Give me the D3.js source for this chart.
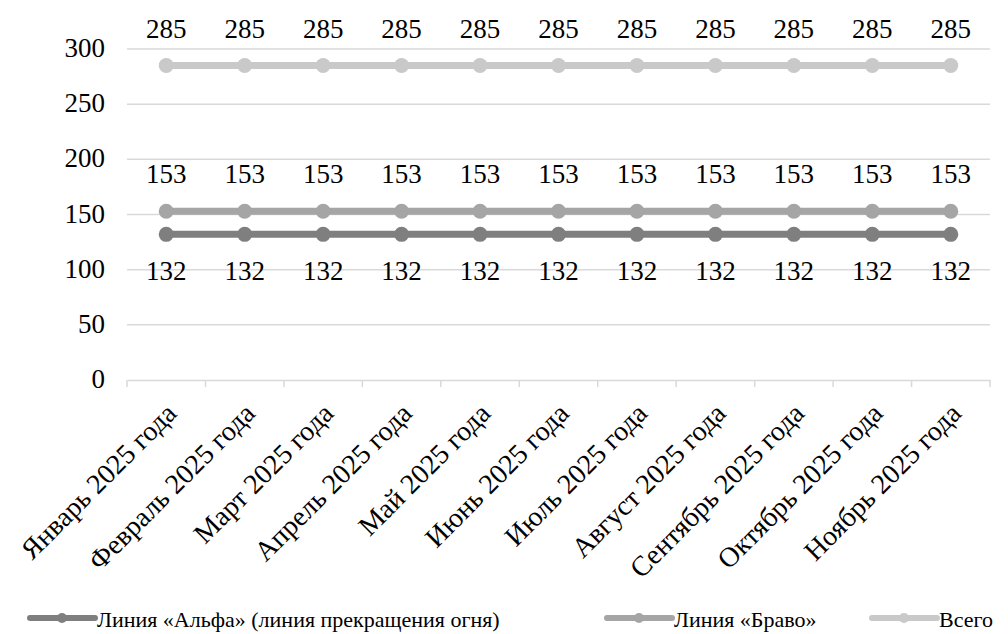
<!DOCTYPE html>
<html><head><meta charset="utf-8"><script src="https://cdn.jsdelivr.net/npm/d3@7"></script></head>
<body style="margin:0">
<script>
const months = ["Январь 2025 года", "Февраль 2025 года", "Март 2025 года", "Апрель 2025 года",
  "Май 2025 года", "Июнь 2025 года", "Июль 2025 года", "Август 2025 года",
  "Сентябрь 2025 года", "Октябрь 2025 года", "Ноябрь 2025 года"];
const seriesNames = ["Линия «Альфа» (линия прекращения огня)", "Линия «Браво»", "Всего"];
const alphaValues = [132, 132, 132, 132, 132, 132, 132, 132, 132, 132, 132];
const bravoValues = [153, 153, 153, 153, 153, 153, 153, 153, 153, 153, 153];
const totalValues = [285, 285, 285, 285, 285, 285, 285, 285, 285, 285, 285];
const yTicks = [0, 50, 100, 150, 200, 250, 300];

const series = [
  {name: seriesNames[0], values: alphaValues, color: "#7f7f7f", labelPos: "below"},
  {name: seriesNames[1], values: bravoValues, color: "#a5a5a5", labelPos: "above"},
  {name: seriesNames[2], values: totalValues, color: "#c9c9c9", labelPos: "above"}
];

const font = () => "'Times New Roman'";
const W = 1008, H = 634;
const margin = {top: 49, right: 18, bottom: 254, left: 127};
const width = W - margin.left - margin.right;
const height = H - margin.top - margin.bottom;

const svg = d3.select("body").append("svg")
  .attr("width", W).attr("height", H);
const g = svg.append("g").attr("transform", `translate(${margin.left},${margin.top})`);

const x = d3.scaleBand().domain(months).range([0, width]);
const y = d3.scaleLinear().domain([0, 300]).range([height, 0]);
const cx = d => x(d) + x.bandwidth() / 2;

// gridlines
g.selectAll(".grid").data(yTicks.filter(t => t > 0)).join("line")
  .attr("x1", 0).attr("x2", width)
  .attr("y1", d => y(d)).attr("y2", d => y(d))
  .attr("stroke", "#d9d9d9").attr("stroke-width", 1.5);

// y axis labels
g.selectAll(".ylab").data(yTicks).join("text")
  .attr("x", -22).attr("y", d => y(d) + 8)
  .attr("text-anchor", "end")
  .style("font-family", font).style("font-size", "27px")
  .text(d => d);

// x axis
const xAxis = g.append("g").attr("transform", `translate(0,${height})`)
  .call(d3.axisBottom(x).tickSize(0).tickFormat(""));
xAxis.select(".domain").attr("stroke", "#d9d9d9").attr("stroke-width", 1.5);
const edges = months.map(m => x(m)).concat([width]);
xAxis.selectAll(".edge").data(edges).join("line")
  .attr("x1", d => d).attr("x2", d => d).attr("y1", 0).attr("y2", 7)
  .attr("stroke", "#d9d9d9").attr("stroke-width", 1.5);
xAxis.selectAll(".xlab").data(months).join("text")
  .attr("transform", d => `translate(${cx(d) + 5},${28}) rotate(-45)`)
  .attr("text-anchor", "end").attr("dy", "0.35em").attr("fill", "#000")
  .style("font-family", font).style("font-size", "28px")
  .text(d => d);

// lines
const line = d3.line().x((d, i) => cx(months[i])).y(d => y(d));
series.forEach(s => {
  g.append("path").datum(s.values)
    .attr("fill", "none").attr("stroke", s.color).attr("stroke-width", 7)
    .attr("d", line);
  g.selectAll(null).data(s.values).join("circle")
    .attr("cx", (d, i) => cx(months[i])).attr("cy", d => y(d)).attr("r", 7.5)
    .attr("fill", s.color);
  g.selectAll(null).data(s.values).join("text")
    .attr("x", (d, i) => cx(months[i]))
    .attr("y", d => s.labelPos === "above" ? y(d) - 28 : y(d) + 46)
    .attr("text-anchor", "middle")
    .style("font-family", font).style("font-size", "27px")
    .text(d => d);
});

// legend
const legendX = [30, 607, 872];
const legend = svg.append("g").attr("transform", "translate(0,618)");
series.forEach((s, i) => {
  const lg = legend.append("g").attr("transform", `translate(${legendX[i]},0)`);
  lg.append("line").attr("x1", 0).attr("x2", 65).attr("y1", 0).attr("y2", 0)
    .attr("stroke", s.color).attr("stroke-width", 6).attr("stroke-linecap", "round");
  lg.append("circle").attr("cx", 32).attr("cy", 0).attr("r", 5).attr("fill", s.color);
  lg.append("text").attr("x", 67).attr("y", 9)
    .style("font-family", font).style("font-size", "22px").text(s.name);
});
</script></body></html>
